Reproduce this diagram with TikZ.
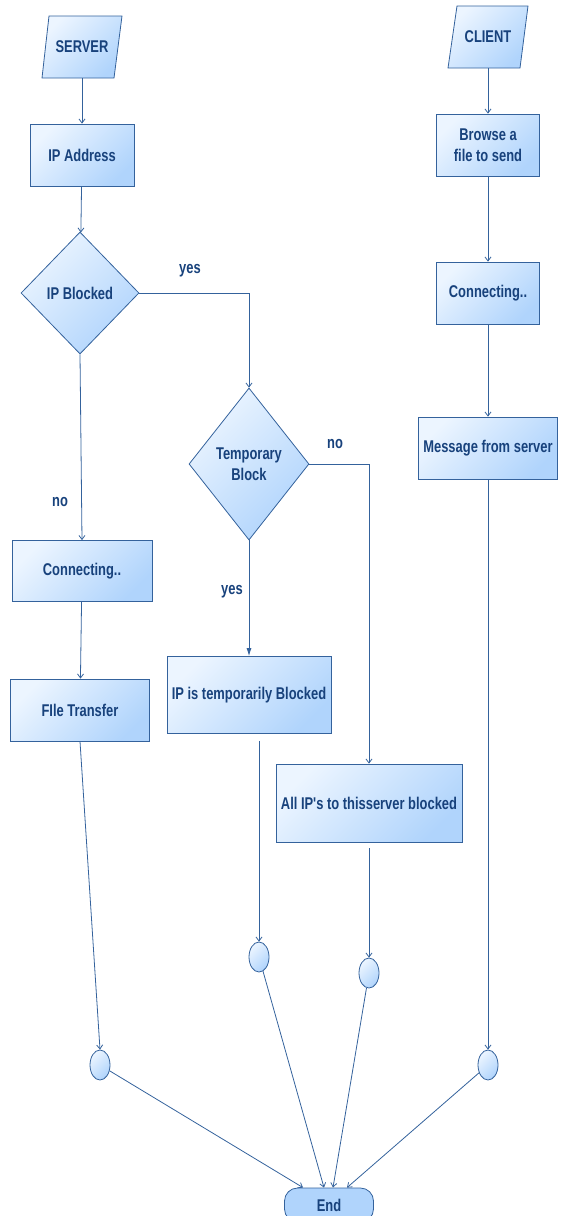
\documentclass[tikz,border=0pt]{standalone}
\usepackage{fontspec}
\newfontfamily\flowfont{Liberation Sans}[FakeStretch=0.76]
\usetikzlibrary{shapes.geometric,arrows.meta}

\definecolor{flowline}{RGB}{52,98,156}
\definecolor{flowtext}{RGB}{24,66,124}
\definecolor{shadelight}{RGB}{236,245,255}
\definecolor{shadedark}{RGB}{176,212,252}

\begin{document}
\begin{tikzpicture}[x=1pt,y=-1pt]
\tikzset{
	shaded/.style={draw=flowline, line width=0.8pt,
		top color=shadelight, bottom color=shadedark, shading angle=45,
		text=flowtext, font=\flowfont\bfseries\fontsize{17}{21}\selectfont,
		align=center, inner sep=0pt},
	procbox/.style={shaded, shape=rectangle},
	iotext/.style={text=flowtext, font=\flowfont\bfseries\fontsize{17}{21}\selectfont,
		inner sep=0pt, minimum width=72, minimum height=62},
	decision/.style={shaded, shape=diamond, aspect=1},
	joint/.style={shaded, shape=ellipse, minimum width=20, minimum height=30},
	terminal/.style={draw=flowline, line width=0.8pt, fill=shadedark,
		rounded corners=13pt, text=flowtext,
		font=\flowfont\bfseries\fontsize{17}{21}\selectfont,
		minimum width=89, minimum height=34},
	answer/.style={text=flowtext, font=\flowfont\bfseries\fontsize{17}{21}\selectfont},
	flow/.style={draw=flowline, line width=0.8pt, -{Straight Barb[length=4pt,width=6pt]}}
}
\useasboundingbox (0,0) rectangle (562,1216);

% server side
\path[shaded] (42,78) -- (49,16) -- (122,16) -- (114,78) -- cycle;
\node[iotext] (Server) at (82,47) {SERVER};
\node[procbox, minimum width=104, minimum height=62] (IPAddr) at (82,155) {IP Address};
\node[decision, minimum width=118, minimum height=122] (IPBlk) at (80,293) {IP Blocked};
\node[decision, minimum width=120, minimum height=152] (TmpBlk) at (249,464) {Temporary\\Block};
\node[procbox, minimum width=140, minimum height=61] (ConnSrv) at (82,571) {Connecting..};
\node[procbox, minimum width=139, minimum height=62] (FTrans) at (80,710) {FIle Transfer};
\node[procbox, minimum width=164, minimum height=77] (TmpIP) at (249,695) {IP is temporarily Blocked};
\node[procbox, minimum width=186, minimum height=78] (AllIP) at (369,803) {All IP's to thisserver blocked};

% client side
\path[shaded] (448,68) -- (457,6) -- (528,6) -- (520,68) -- cycle;
\node[iotext] (Client) at (488,37) {CLIENT};
\node[procbox, minimum width=103, minimum height=62] (Browse) at (488,145) {Browse a\\file to send};
\node[procbox, minimum width=103, minimum height=62] (ConnCli) at (488,293) {Connecting..};
\node[procbox, minimum width=139, minimum height=62] (Msg) at (488,448) {Message from server};

% joins and end
\node[joint] (JoinA) at (259,957) {};
\node[joint] (JoinB) at (369,973) {};
\node[joint] (JoinC) at (100,1065) {};
\node[joint] (JoinD) at (488,1065) {};
\node[terminal] (End) at (329,1205) {End};

\node[answer] (YesA) at (190,271) {yes};
\node[answer] (NoA) at (60,502) {no};
\node[answer] (YesB) at (232,592) {yes};
\node[answer] (NoB) at (335,444) {no};

\draw[flow] (Server) -- (IPAddr);
\draw[flow] (IPAddr) -- (IPBlk);
\draw[flow] (IPBlk.east) -| (TmpBlk.north);
\draw[flow] (IPBlk.south) -- (ConnSrv.north);
\draw[flow] (ConnSrv) -- (FTrans);
\draw[flow] (FTrans.south) -- (JoinC.north);
\draw[draw=flowline, line width=0.8pt, -{Latex[length=8pt,width=5pt]}] (TmpBlk.south) -- (TmpIP.north);
\draw[flow] (TmpBlk.east) -| (AllIP.north);
\draw[flow, shorten <=7pt] (TmpIP.south -| JoinA.north) -- (JoinA.north);
\draw[flow, shorten <=6pt] (AllIP.south) -- (JoinB.north);

\draw[flow] (Client) -- (Browse);
\draw[flow] (Browse) -- (ConnCli);
\draw[flow] (ConnCli) -- (Msg);
\draw[flow] (Msg) -- (JoinD.north);

\draw[flow] (JoinC) -- ([xshift=-26pt]End.north);
\draw[flow] (JoinA) -- ([xshift=-5pt]End.north);
\draw[flow] (JoinB) -- ([xshift=4pt]End.north);
\draw[flow] (JoinD) -- ([xshift=18pt]End.north);
\end{tikzpicture}
\end{document}
